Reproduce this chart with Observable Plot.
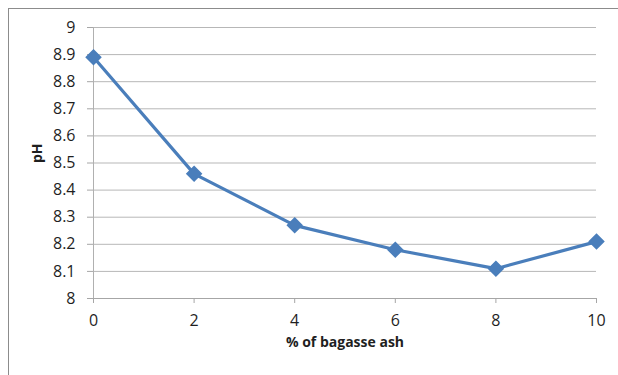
<!DOCTYPE html>
<html>
<head>
<meta charset="utf-8">
<script src="https://cdn.jsdelivr.net/npm/d3@7"></script>
<script src="https://cdn.jsdelivr.net/npm/@observablehq/plot@0.6"></script>
<style>
  html, body { margin: 0; padding: 0; background: #fff; }
  #wrap { position: relative; width: 618px; height: 375px; overflow: hidden; }
  #frame { position: absolute; left: 8px; top: 8px; width: 640px; height: 400px;
           border-left: 1.5px solid #8c8c8c; border-top: 1.5px solid #8c8c8c; pointer-events: none; }
  #chart { position: absolute; left: 0; top: 0; }
</style>
</head>
<body>
<div id="wrap"><div id="chart"></div><div id="frame"></div></div>
<script>
const ashPercent = [0, 2, 4, 6, 8, 10];
const phValues = [8.89, 8.46, 8.27, 8.18, 8.11, 8.21];
const xTicks = [0, 2, 4, 6, 8, 10];
const yTicks = [8, 8.1, 8.2, 8.3, 8.4, 8.5, 8.6, 8.7, 8.8, 8.9, 9];

const data = ashPercent.map((x, i) => ({x, y: phValues[i]}));
const blue = "#4a7ebb";
const font = "'Open Sans', 'Noto Sans', sans-serif";
const textColor = "#1f1f1f";

const chart = Plot.plot({
  width: 618,
  height: 375,
  marginLeft: 93,
  marginRight: 22,
  marginTop: 27,
  marginBottom: 77,
  style: {fontFamily: font, fontSize: "15px", color: textColor, background: "transparent"},
  x: {domain: [0, 10], ticks: xTicks},
  y: {domain: [8, 9], ticks: yTicks},
  marks: [
    Plot.gridY(yTicks, {stroke: "#b7b7b7", strokeOpacity: 1, strokeWidth: 1}),
    Plot.ruleX([0], {stroke: "#b0b0b0", strokeWidth: 1}),
    Plot.ruleY([8], {stroke: "#a6a6a6", strokeWidth: 1}),
    Plot.axisY(yTicks, {tickSize: 6, tickPadding: 12, stroke: "#a6a6a6", fill: textColor,
      fontSize: 16, tickFormat: d => String(+d.toFixed(1)), label: null}),
    Plot.axisX(xTicks, {tickSize: 5, tickPadding: 11, stroke: "#a6a6a6", fill: textColor,
      fontSize: 16, label: null}),
    Plot.text(["pH"], {frameAnchor: "left", dx: -56, rotate: -90, fontWeight: "bold",
      fontSize: 14, fill: textColor}),
    Plot.text(["% of bagasse ash"], {frameAnchor: "bottom", dy: 48, fontWeight: "bold",
      fontSize: 14, fill: textColor}),
    Plot.line(data, {x: "x", y: "y", stroke: blue, strokeWidth: 3.2}),
    Plot.dot(data, {x: "x", y: "y", symbol: "diamond2", r: 6.5, fill: blue, stroke: blue})
  ]
});
document.getElementById("chart").append(chart);
</script>
</body>
</html>
